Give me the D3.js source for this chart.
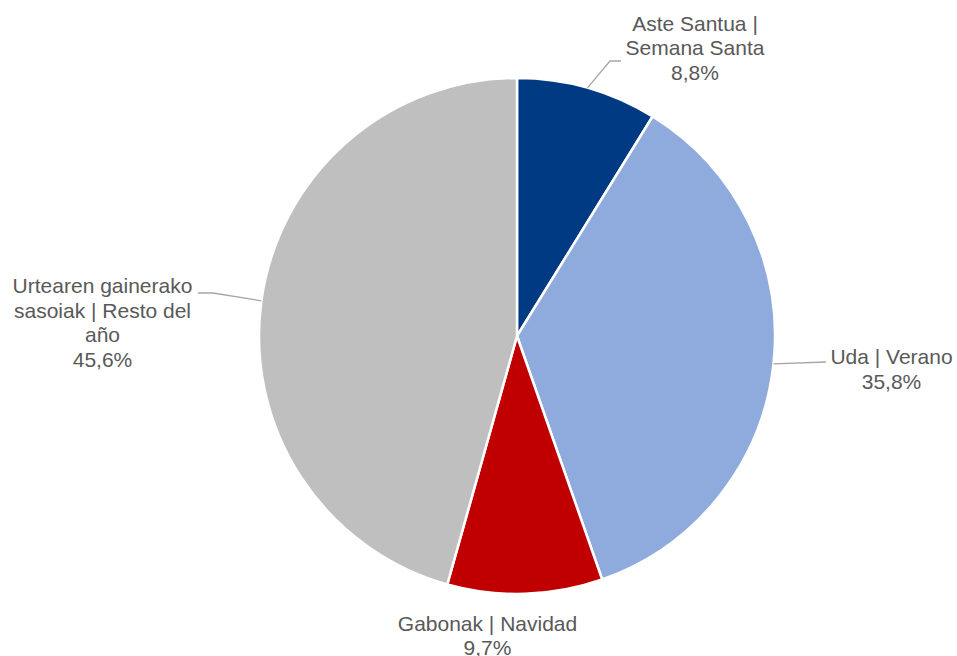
<!DOCTYPE html>
<html>
<head>
<meta charset="utf-8">
<script src="https://cdn.jsdelivr.net/npm/d3@7"></script>
<style>
	body { margin: 0; background: #fff; }
	text { font-family: "Liberation Sans", Arial, sans-serif; fill: #595959; }
</style>
</head>
<body>
<svg id="chart" width="957" height="656"></svg>
<script>
// data
var categories = [
	["Aste Santua |", "Semana Santa"],
	["Uda | Verano"],
	["Gabonak | Navidad"],
	["Urtearen gainerako", "sasoiak | Resto del", "año"]
];
var values = [8.8, 35.8, 9.7, 45.6];
var value_labels = ["8,8%", "35,8%", "9,7%", "45,6%"];
var colors = ["#003A82", "#8FAADC", "#C00000", "#BFBFBF"];

var WIDTH = 957, HEIGHT = 656;
var cx = 517, cy = 336, radius = 258;
var FONT_SIZE = 21, LINE_H = 24.5;

// label layout: text centre x, first baseline y, leader end points (relative to nothing, page coords)
var label_layout = [
	{x: 695, y: 30.5, leader: [[610, 61], [621, 61]]},
	{x: 891.5, y: 364, leader: [[826, 362]]},
	{x: 487.5, y: 630.5, leader: null},
	{x: 102.5, y: 293, leader: [[213, 293], [198, 293]]}
];

var svg = d3.select("#chart");
var g = svg.append("g")
	.attr("transform", "translate(" + cx + "," + cy + ")");

var pie = d3.pie().sort(null).value(function(d){ return d; });
var arcs = pie(values);

var arc = d3.arc().innerRadius(0).outerRadius(radius);

g.selectAll("path.slice")
	.data(arcs)
	.enter()
	.append("path")
		.attr("class", "slice")
		.attr("d", arc)
		.style("fill", function(d, i){ return colors[i]; })
		.style("stroke", "#ffffff")
		.style("stroke-width", 2.5)
		.style("stroke-linejoin", "round");

// leader lines
arcs.forEach(function(d, i) {
	var lay = label_layout[i];
	if (!lay.leader) return;
	var mid = (d.startAngle + d.endAngle) / 2;
	var pts = [[cx + Math.sin(mid) * radius, cy - Math.cos(mid) * radius]].concat(lay.leader);
	svg.append("path")
		.attr("d", d3.line()(pts))
		.style("fill", "none")
		.style("stroke", "#A6A6A6")
		.style("stroke-width", 1.3);
});

// labels
arcs.forEach(function(d, i) {
	var lay = label_layout[i];
	var lines = categories[i].concat([value_labels[i]]);
	var t = svg.append("text")
		.attr("text-anchor", "middle")
		.style("font-size", FONT_SIZE + "px");
	lines.forEach(function(l, j) {
		t.append("tspan")
			.attr("x", lay.x)
			.attr("y", lay.y + j * LINE_H)
			.text(l);
	});
});
</script>
</body>
</html>
